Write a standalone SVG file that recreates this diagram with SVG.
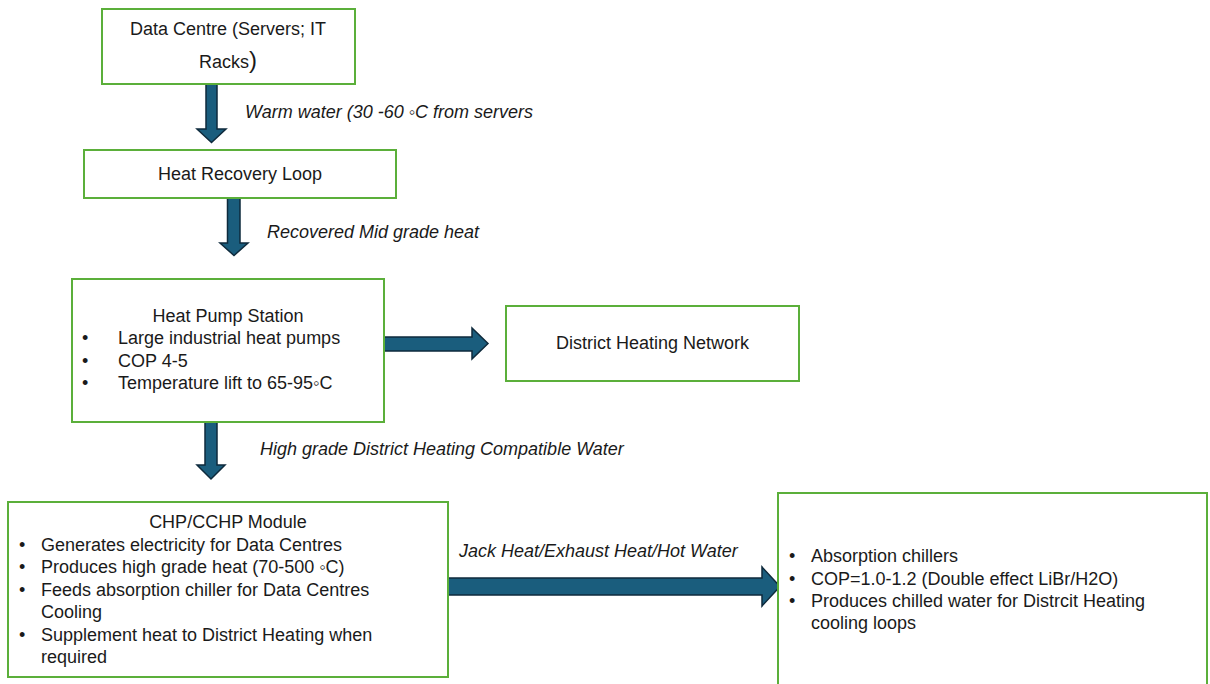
<svg xmlns="http://www.w3.org/2000/svg" width="1210" height="684" viewBox="0 0 1210 684">
<style>
.box{fill:#fff;stroke:#5BAF3A;stroke-width:2}
.arr{fill:#1A5D7D;stroke:#0E2A3C;stroke-width:1.5;stroke-linejoin:miter}
text{font-family:"Liberation Sans",Arial,sans-serif;font-size:18px;fill:#1a1a1a}
.c{text-anchor:middle}
.i{font-style:italic}
</style>
<rect width="1210" height="684" fill="#fff"/>
<g id="connectors">
<polygon class="arr" points="206,84 217,84 217,129 226,129 211.5,142.5 197,129 206,129"/>
<polygon class="arr" points="227.5,198 240,198 240,243 248,243 234,255.5 220,243 227.5,243"/>
<polygon class="arr" points="384,337 472,337 472,328 488,343.5 472,359 472,351 384,351"/>
<polygon class="arr" points="205,422 217,422 217,465 225,465 211,479 197,465 205,465"/>
<polygon class="arr" points="448,578 762,578 762,567 780,586.5 762,606 762,595 448,595"/>
<text class="i" x="245" y="118">Warm water (30 -60 ◦C from servers</text>
<text class="i" x="267" y="238">Recovered Mid grade heat</text>
<text class="i" x="260" y="455">High grade District Heating Compatible Water</text>
<text class="i" x="459" y="557">Jack Heat/Exhaust Heat/Hot Water</text>
</g>
<g id="data-centre">
<rect class="box" x="102" y="9" width="253" height="75"/>
<text class="c" x="228" y="35">Data Centre (Servers; IT</text>
<text x="199" y="68">Racks<tspan font-size="24">)</tspan></text>
</g>
<g id="heat-recovery-loop">
<rect class="box" x="84" y="150" width="312" height="48"/>
<text class="c" x="240" y="180">Heat Recovery Loop</text>
</g>
<g id="heat-pump-station">
<rect class="box" x="72" y="279" width="312" height="143"/>
<text class="c" x="228" y="322">Heat Pump Station</text>
<text x="82" y="344">•</text><text x="118" y="344">Large industrial heat pumps</text>
<text x="82" y="367">•</text><text x="118" y="367">COP 4-5</text>
<text x="82" y="389">•</text><text x="118" y="389">Temperature lift to 65-95◦C</text>
</g>
<g id="district-heating-network">
<rect class="box" x="506" y="306" width="293" height="75"/>
<text class="c" x="652.5" y="349">District Heating Network</text>
</g>
<g id="chp-cchp-module">
<rect class="box" x="8" y="502" width="440" height="175"/>
<text class="c" x="228" y="528">CHP/CCHP Module</text>
<text x="19" y="551">•</text><text x="41" y="551">Generates electricity for Data Centres</text>
<text x="19" y="573">•</text><text x="41" y="573">Produces high grade heat (70-500 ◦C)</text>
<text x="19" y="596">•</text><text x="41" y="596">Feeds absorption chiller for Data Centres</text>
<text x="41" y="618">Cooling</text>
<text x="19" y="641">•</text><text x="41" y="641">Supplement heat to District Heating when</text>
<text x="41" y="663">required</text>
</g>
<g id="absorption-chillers">
<rect class="box" x="778" y="493" width="429" height="200"/>
<text x="789" y="562">•</text><text x="811" y="562">Absorption chillers</text>
<text x="789" y="585">•</text><text x="811" y="585">COP=1.0-1.2 (Double effect LiBr/H2O)</text>
<text x="789" y="607">•</text><text x="811" y="607">Produces chilled water for Distrcit Heating</text>
<text x="811" y="629">cooling loops</text>
</g>
</svg>
